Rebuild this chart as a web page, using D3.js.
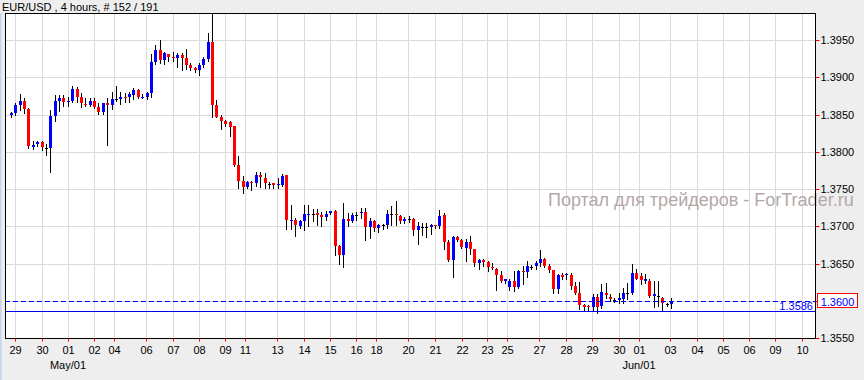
<!DOCTYPE html>
<html><head><meta charset="utf-8">
<script src="https://cdn.jsdelivr.net/npm/d3@7"></script>
<style>
html,body{margin:0;padding:0;background:#eeeeee;}
svg{display:block;font-family:"Liberation Sans",Arial,sans-serif;}
</style></head><body>
<svg id="chart" width="864" height="380"></svg>
<script>
const titleText = "EUR/USD , 4 hours, # 152 / 191";
const watermarkText = "Портал для трейдеров - ForTrader.ru";

const opens = [
1.38492,1.38519,1.38630,1.38687,1.38576,1.38063,1.38098,1.38125,1.38050,1.38050,
1.38482,1.38687,1.38719,1.38674,1.38687,1.38840,1.38733,1.38643,1.38630,1.38687,
1.38599,1.38540,1.38652,1.38630,1.38706,1.38714,1.38741,1.38733,1.38764,1.38831,
1.38727,1.38741,1.38794,1.39205,1.39366,1.39232,1.39313,1.39272,1.39255,1.39299,
1.39255,1.39165,1.39125,1.39098,1.39165,1.39242,1.39477,1.38630,1.38473,1.38419,
1.38393,1.38339,1.37817,1.37612,1.37528,1.37595,1.37581,1.37692,1.37652,1.37572,
1.37576,1.37554,1.37558,1.37683,1.37080,1.37090,1.37009,1.37067,1.37157,1.37166,
1.37180,1.37157,1.37121,1.37180,1.37210,1.36732,1.36612,1.37099,1.37067,1.37157,
1.37180,1.37188,1.36987,1.37067,1.36979,1.37023,1.37023,1.37170,1.37170,1.37143,
1.37076,1.37099,1.37103,1.36947,1.36992,1.36992,1.36992,1.37013,1.37000,1.37157,
1.36786,1.36541,1.36853,1.36809,1.36711,1.36786,1.36688,1.36510,1.36541,1.36518,
1.36451,1.36430,1.36340,1.36264,1.36189,1.36264,1.36184,1.36398,1.36384,1.36456,
1.36464,1.36510,1.36554,1.36464,1.36411,1.36162,1.36340,1.36340,1.36340,1.36193,
1.36108,1.35938,1.35929,1.35912,1.36045,1.35929,1.36108,1.36055,1.36012,1.36009,
1.36019,1.36103,1.36108,1.36376,1.36331,1.36264,1.36264,1.36063,1.36063,1.36041,
1.35952,1.35952];
const highs = [
1.38532,1.38652,1.38777,1.38719,1.38583,1.38138,1.38148,1.38138,1.38103,1.38563,
1.38764,1.38764,1.38764,1.38733,1.38884,1.38875,1.38786,1.38719,1.38719,1.38719,
1.38652,1.38660,1.38719,1.38808,1.38884,1.38808,1.38794,1.38808,1.38853,1.38840,
1.38777,1.38808,1.39313,1.39433,1.39500,1.39343,1.39313,1.39335,1.39322,1.39322,
1.39379,1.39188,1.39142,1.39188,1.39276,1.39598,1.39930,1.38697,1.38496,1.38429,
1.38419,1.38348,1.37937,1.37679,1.37603,1.37603,1.37733,1.37733,1.37719,1.37589,
1.37585,1.37652,1.37706,1.37692,1.37291,1.37113,1.37090,1.37291,1.37291,1.37233,
1.37233,1.37188,1.37201,1.37210,1.37224,1.36755,1.37313,1.37180,1.37180,1.37188,
1.37246,1.37246,1.37113,1.37080,1.37036,1.37036,1.37224,1.37268,1.37335,1.37157,
1.37126,1.37134,1.37113,1.37054,1.37046,1.37046,1.37036,1.37023,1.37224,1.37184,
1.36822,1.36866,1.36866,1.36831,1.36831,1.36866,1.36688,1.36554,1.36554,1.36531,
1.36510,1.36443,1.36398,1.36296,1.36286,1.36398,1.36407,1.36464,1.36531,1.36478,
1.36531,1.36679,1.36577,1.36500,1.36411,1.36353,1.36376,1.36376,1.36376,1.36250,
1.36250,1.35952,1.35942,1.36086,1.36095,1.36219,1.36242,1.36086,1.36041,1.36108,
1.36175,1.36242,1.36487,1.36420,1.36376,1.36353,1.36286,1.36264,1.36264,1.36050,
1.35974,1.36041];
const lows = [
1.38473,1.38496,1.38563,1.38519,1.38050,1.38041,1.38071,1.38018,1.37960,1.37723,
1.38419,1.38553,1.38620,1.38616,1.38674,1.38674,1.38607,1.38616,1.38616,1.38589,
1.38509,1.38509,1.38094,1.38572,1.38687,1.38643,1.38674,1.38674,1.38706,1.38719,
1.38719,1.38706,1.38741,1.39179,1.39188,1.39179,1.39223,1.39223,1.39142,1.39098,
1.39108,1.39098,1.39076,1.39031,1.39142,1.39223,1.38473,1.38465,1.38308,1.38339,
1.38205,1.37804,1.37518,1.37447,1.37518,1.37482,1.37545,1.37532,1.37518,1.37514,
1.37514,1.37514,1.37536,1.36969,1.36969,1.36866,1.36979,1.36956,1.37009,1.37067,
1.37013,1.37009,1.37090,1.37170,1.36608,1.36487,1.36457,1.37000,1.37054,1.37090,
1.37113,1.36822,1.36845,1.36933,1.36920,1.36965,1.36979,1.37023,1.37023,1.37046,
1.37046,1.37059,1.36889,1.36764,1.36889,1.36858,1.36902,1.36979,1.36979,1.36688,
1.36531,1.36317,1.36799,1.36711,1.36531,1.36621,1.36464,1.36420,1.36464,1.36398,
1.36420,1.36143,1.36250,1.36242,1.36143,1.36130,1.36175,1.36219,1.36323,1.36420,
1.36420,1.36464,1.36456,1.36384,1.36108,1.36108,1.36296,1.36286,1.36162,1.36086,
1.35885,1.35875,1.35875,1.35875,1.35840,1.35907,1.36041,1.35996,1.35982,1.35974,
1.35974,1.36019,1.36086,1.36286,1.36219,1.36242,1.36050,1.35916,1.35929,1.35871,
1.35929,1.35907];
const closes = [
1.38519,1.38630,1.38687,1.38576,1.38071,1.38094,1.38125,1.38058,1.38050,1.38482,
1.38683,1.38719,1.38674,1.38687,1.38840,1.38741,1.38652,1.38630,1.38687,1.38607,
1.38540,1.38652,1.38630,1.38710,1.38706,1.38741,1.38733,1.38777,1.38831,1.38733,
1.38741,1.38786,1.39205,1.39366,1.39232,1.39322,1.39276,1.39264,1.39299,1.39255,
1.39165,1.39121,1.39098,1.39165,1.39246,1.39477,1.38630,1.38473,1.38419,1.38375,
1.38331,1.37817,1.37612,1.37532,1.37595,1.37581,1.37692,1.37656,1.37576,1.37572,
1.37556,1.37568,1.37679,1.37080,1.37090,1.37013,1.37067,1.37170,1.37170,1.37166,
1.37157,1.37121,1.37170,1.37201,1.36732,1.36608,1.37099,1.37067,1.37157,1.37157,
1.37188,1.36987,1.37067,1.36979,1.37023,1.37023,1.37170,1.37170,1.37157,1.37076,
1.37099,1.37099,1.36947,1.37000,1.36992,1.36992,1.37023,1.37005,1.37143,1.36786,
1.36541,1.36853,1.36813,1.36719,1.36786,1.36697,1.36510,1.36541,1.36518,1.36451,
1.36443,1.36340,1.36264,1.36286,1.36264,1.36189,1.36398,1.36384,1.36464,1.36456,
1.36510,1.36554,1.36464,1.36411,1.36162,1.36340,1.36323,1.36353,1.36193,1.36108,
1.35948,1.35918,1.35912,1.36045,1.35912,1.36122,1.36072,1.36019,1.36012,1.36041,
1.36108,1.36103,1.36376,1.36296,1.36277,1.36286,1.36063,1.36086,1.36063,1.35974,
1.35952,1.36000];

const priceTicks = [1.3550,1.3600,1.3650,1.3700,1.3750,1.3800,1.3850,1.3900,1.3950];
const dateTickPos = [1.98,8.16,14.1,20.05,24.6,31.9,38.06,44.0,49.9,54.6,61.8,68.0,74.0,79.9,84.5,91.8,
  97.98,104.1,109.9,114.5,121.8,127.9,133.96,140.0,144.6,151.7,157.8,163.9,169.8,175.8,181.9];
const dateTickLabels = ["29","30","01","02","04","06","07","08","09","11","13","14","15","16","18","20",
  "21","22","23","25","27","28","29","30","01","03","04","05","06","09","10"];
const monthLabelPos = [14.1, 144.6];
const monthLabelText = ["May/01","Jun/01"];
const bidPrice = 1.3600;
const hLinePrice = 1.3586;

const W = 864, H = 380;
const plot = {left:5, right:815, top:13, bottom:338};

const svg = d3.select("#chart");
const candles = opens.map((o,i)=>({i:i+1,o,h:highs[i],l:lows[i],c:closes[i]}));

const x = d3.scaleLinear().domain([1,152]).range([11,671.2]).interpolate(d3.interpolateRound);
const y = d3.scaleLinear().domain([1.3550,1.3950]).range([338,40]).interpolate(d3.interpolateRound);

svg.append("rect").attr("width",W).attr("height",H).attr("fill","#eeeeee");
svg.append("rect").attr("x",0).attr("y",plot.top).attr("width",1.6).attr("height",H-plot.top).attr("fill","#c5d6ee");

svg.append("rect").attr("x",plot.left+0.5).attr("y",plot.top+0.5)
  .attr("width",plot.right-plot.left).attr("height",plot.bottom-plot.top)
  .attr("fill","#ffffff");

svg.append("defs").append("clipPath").attr("id","clip")
  .append("rect").attr("x",plot.left+1).attr("y",plot.top+1)
  .attr("width",plot.right-plot.left-1).attr("height",plot.bottom-plot.top-1);

const grid = svg.append("g").attr("shape-rendering","crispEdges").attr("stroke","#dadada");
grid.selectAll("line.h").data(priceTicks).join("line").attr("class","h")
  .attr("x1",plot.left).attr("x2",plot.right)
  .attr("y1",d=>y(d)+0.5).attr("y2",d=>y(d)+0.5);
grid.selectAll("line.v").data(dateTickPos).join("line").attr("class","v")
  .attr("x1",d=>x(d)+0.5).attr("x2",d=>x(d)+0.5)
  .attr("y1",plot.top).attr("y2",plot.bottom);

svg.append("text").attr("x",548).attr("y",206)
  .attr("font-size",18).attr("fill","#b2a8a8").text(watermarkText);

const cg = svg.append("g").attr("clip-path","url(#clip)").attr("shape-rendering","crispEdges");
cg.selectAll("line.wick").data(candles).join("line").attr("class","wick")
  .attr("x1",d=>x(d.i)+0.5).attr("x2",d=>x(d.i)+0.5)
  .attr("y1",d=>y(d.h)).attr("y2",d=>y(d.l)+1)
  .attr("stroke","#000").attr("stroke-width",1);
cg.selectAll("rect.body").data(candles).join("rect").attr("class","body")
  .attr("x",d=>x(d.i)-1).attr("width",3)
  .attr("y",d=>Math.min(y(d.o),y(d.c)))
  .attr("height",d=>Math.max(1,Math.abs(y(d.o)-y(d.c))))
  .attr("fill",d=>d.c>d.o?"#0000ff":(d.c<d.o?"#ff0000":"#000000"));

// price lines
svg.append("line").attr("x1",plot.left).attr("x2",plot.right)
  .attr("y1",y(bidPrice)+0.5).attr("y2",y(bidPrice)+0.5)
  .attr("stroke","#0000ee").attr("stroke-dasharray","5,3").attr("shape-rendering","crispEdges");
svg.append("line").attr("x1",plot.left).attr("x2",plot.right)
  .attr("y1",y(hLinePrice)+0.5).attr("y2",y(hLinePrice)+0.5)
  .attr("stroke","#0000ee").attr("shape-rendering","crispEdges");
svg.append("text").attr("x",plot.right-2).attr("y",y(hLinePrice)-1.5)
  .attr("text-anchor","end").attr("font-size",11).attr("fill","#0000ff")
  .text(d3.format(".4f")(hLinePrice));

// border
svg.append("rect").attr("x",plot.left+0.5).attr("y",plot.top+0.5)
  .attr("width",plot.right-plot.left).attr("height",plot.bottom-plot.top)
  .attr("fill","none").attr("stroke","#000").attr("shape-rendering","crispEdges");

// right axis
const ya = svg.append("g").attr("transform",`translate(${plot.right+0.5},0)`)
  .call(d3.axisRight(y).tickValues(priceTicks).tickFormat(d3.format(".4f")).tickSize(4).tickPadding(1));
ya.select(".domain").remove();
ya.selectAll(".tick line").attr("stroke","#ff0000");
ya.selectAll(".tick text").attr("font-size",11).attr("fill","#000").attr("font-family","Liberation Sans, Arial, sans-serif");

// bottom axis
const xa = svg.append("g").attr("transform",`translate(0,${plot.bottom+0.5})`)
  .call(d3.axisBottom(x).tickValues(dateTickPos).tickFormat((d,i)=>dateTickLabels[i]).tickSize(3).tickPadding(5));
xa.select(".domain").remove();
xa.selectAll(".tick line").attr("stroke","#ff0000");
xa.selectAll(".tick text").attr("font-size",11).attr("fill","#000").attr("font-family","Liberation Sans, Arial, sans-serif");

svg.selectAll("text.month").data(monthLabelPos).join("text").attr("class","month")
  .attr("x",d=>x(d)).attr("y",369).attr("text-anchor","middle")
  .attr("font-size",11).attr("fill","#000").text((d,i)=>monthLabelText[i]);

// current price box
const by = y(bidPrice);
svg.append("rect").attr("x",817.5).attr("y",by-7.5).attr("width",40).attr("height",14)
  .attr("fill","#ffffff").attr("stroke","#ff0000").attr("shape-rendering","crispEdges");
svg.append("text").attr("x",837.5).attr("y",by+4.5).attr("text-anchor","middle")
  .attr("font-size",11).attr("fill","#0000ff").text(d3.format(".4f")(bidPrice));

// title
svg.append("text").attr("x",2).attr("y",10.5).attr("font-size",11).attr("fill","#000").text(titleText);
</script>
</body></html>
